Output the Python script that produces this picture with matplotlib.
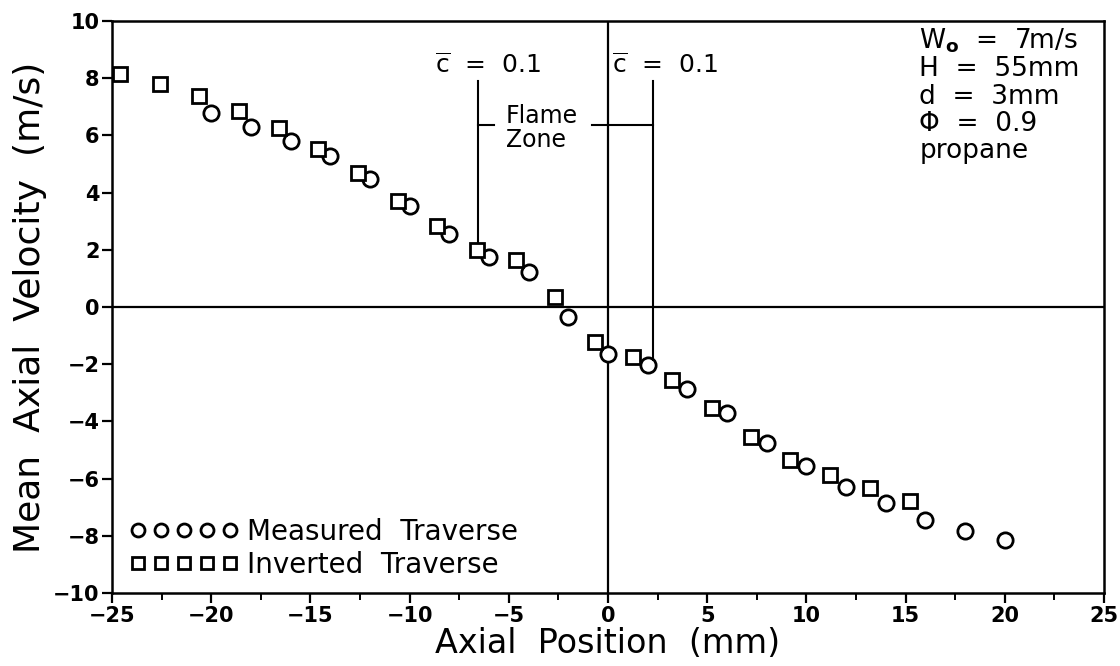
import numpy as np
import matplotlib
matplotlib.use("Agg")
import matplotlib.pyplot as plt
from matplotlib.ticker import MultipleLocator

# Measured traverse (circles)
x_meas = [-20, -18, -16, -14, -12, -10, -8, -6, -4, -2, 0, 2, 4, 6, 8, 10, 12, 14, 16, 18, 20]
v_meas = [6.78, 6.28, 5.82, 5.29, 4.49, 3.52, 2.56, 1.76, 1.21, -0.34, -1.66,
          -2.03, -2.85, -3.72, -4.74, -5.56, -6.30, -6.86, -7.43, -7.82, -8.16]

# Inverted traverse (squares)
x_inv = [-24.6, -22.6, -20.6, -18.6, -16.6, -14.6, -12.6, -10.6, -8.6, -6.6, -4.65,
         -2.67, -0.66, 1.25, 3.23, 5.24, 7.2, 9.19, 11.18, 13.19, 15.24]
v_inv = [8.13, 7.78, 7.37, 6.85, 6.25, 5.51, 4.69, 3.70, 2.82, 2.0, 1.66,
         0.34, -1.22, -1.76, -2.57, -3.54, -4.54, -5.35, -5.88, -6.32, -6.80]

# c-bar = 0.1 positions (flame zone edges)
c_left_x = -6.57
c_right_x = 2.25

info_lines = ["W$_\\mathbf{o}$  =  7m/s", "H  =  55mm", "d  =  3mm", "\u03a6  =  0.9", "propane"]

fig = plt.figure(figsize=(11.2, 6.66), dpi=100)
ax = fig.add_axes([0.1, 0.1096, 0.8857, 0.8589])

ax.axhline(0, color="black", lw=1.6)
ax.axvline(0, color="black", lw=1.6)

ax.plot(x_meas, v_meas, linestyle="none", marker="o", ms=11, mfc="white",
        mec="black", mew=2.0, label="Measured  Traverse")
ax.plot(x_inv, v_inv, linestyle="none", marker="s", ms=9.5, mfc="white",
        mec="black", mew=2.0, label="Inverted  Traverse")

# flame zone annotation
ax.plot([c_left_x, c_left_x], [7.9, 2.25], color="black", lw=1.5)
ax.plot([c_left_x, -5.75], [6.37, 6.37], color="black", lw=1.5)
ax.plot([c_right_x, c_right_x], [7.9, -1.85], color="black", lw=1.5)
ax.plot([-0.8, c_right_x], [6.37, 6.37], color="black", lw=1.5)
ax.text(-8.7, 8.45, "$\\overline{\\mathrm{c}}$  =  0.1", fontsize=18, va="center", ha="left")
ax.text(0.2, 8.45, "$\\overline{\\mathrm{c}}$  =  0.1", fontsize=18, va="center", ha="left")
ax.text(-5.15, 6.27, "Flame\nZone", fontsize=17, va="center", ha="left", linespacing=1.0)

ax.text(15.7, 9.8, "\n".join(info_lines), fontsize=19, va="top", ha="left",
        linespacing=1.06)

leg = ax.legend(loc="lower left", numpoints=5, handlelength=3.9, handletextpad=0.3,
                markerscale=0.85, frameon=False, fontsize=20, labelspacing=0.2,
                borderaxespad=0.2, borderpad=0.3, bbox_to_anchor=(0.004, 0.0))

ax.set_xlim(-25, 25)
ax.set_ylim(-10, 10)
ax.xaxis.set_major_locator(MultipleLocator(5))
ax.xaxis.set_minor_locator(MultipleLocator(2.5))
ax.yaxis.set_major_locator(MultipleLocator(2))
ax.tick_params(which="major", direction="out", length=7, width=1.6,
               labelsize=15, pad=2, top=False, right=False)
ax.tick_params(which="minor", direction="out", length=5, width=1.4,
               top=False, right=False)
for lab in ax.get_xticklabels() + ax.get_yticklabels():
    lab.set_fontweight("bold")
for s in ax.spines.values():
    s.set_linewidth(1.8)

ax.set_xlabel("Axial  Position  (mm)", fontsize=24, labelpad=1)
ax.set_ylabel("Mean  Axial  Velocity  (m/s)", fontsize=26, labelpad=4)

fig.savefig("out.png", dpi=100)
